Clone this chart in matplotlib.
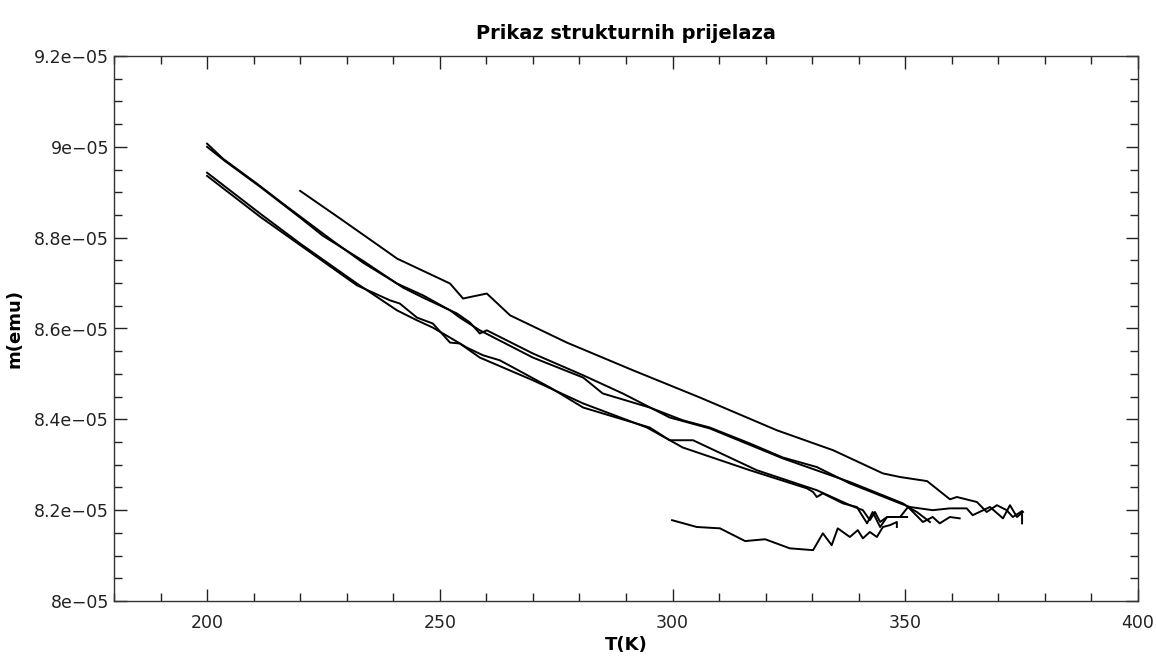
import matplotlib
matplotlib.use('Agg')
import matplotlib.pyplot as plt
from matplotlib.ticker import MultipleLocator, FuncFormatter

# mjerenja, m u jedinicama 1e-05 emu
T_c = [220.0, 228.6, 239.3, 240.8, 246.4, 252.2, 255.0, 260.1, 265.1, 277.3, 291.5, 305.9,
       322.4, 334.5, 345.2, 348.9, 354.7, 359.6, 361.1, 365.4, 367.5, 369.7, 371.8, 373.1,
       375.1, 375.1]
m_c = [8.903, 8.842, 8.765, 8.754, 8.727, 8.699, 8.666, 8.677, 8.629, 8.569, 8.508, 8.448,
       8.376, 8.332, 8.281, 8.273, 8.264, 8.224, 8.229, 8.218, 8.196, 8.211, 8.200, 8.185,
       8.198, 8.171]

T_a1 = [200.0, 203.4, 210.7, 216.3, 220.6, 227.0, 233.5, 240.8, 246.4, 252.2, 254.3, 258.6,
        270.0, 280.8, 285.0, 295.1, 302.2, 308.0, 316.6, 323.7, 331.0, 338.1, 348.9, 351.0,
        355.9, 359.6, 363.2, 364.5, 368.2, 371.0, 372.5, 374.0, 375.3]
m_a1 = [9.007, 8.974, 8.919, 8.875, 8.842, 8.793, 8.745, 8.699, 8.673, 8.640, 8.624, 8.596,
        8.536, 8.492, 8.457, 8.426, 8.398, 8.382, 8.347, 8.316, 8.295, 8.259, 8.215, 8.207,
        8.200, 8.204, 8.204, 8.189, 8.207, 8.182, 8.211, 8.185, 8.196]

T_a2 = [200.0, 203.8, 211.4, 220.0, 224.9, 233.5, 242.1, 246.4, 253.7, 256.5, 258.6, 260.1,
        270.0, 280.8, 289.3, 299.4, 308.0, 323.7, 338.1, 349.5, 350.6, 353.8, 355.9, 357.4,
        359.6, 361.7]
m_a2 = [9.000, 8.969, 8.912, 8.844, 8.804, 8.749, 8.690, 8.668, 8.633, 8.613, 8.589, 8.596,
        8.545, 8.497, 8.457, 8.404, 8.380, 8.314, 8.262, 8.215, 8.207, 8.174, 8.185, 8.171,
        8.185, 8.182]

T_b1 = [200.0, 211.4, 220.0, 232.2, 240.8, 245.1, 248.5, 252.2, 255.8, 259.3, 262.9, 273.7,
        280.8, 295.1, 299.4, 304.4, 318.1, 331.0, 338.1, 340.9, 342.4, 343.5, 344.6, 346.1,
        350.4]
m_b1 = [8.943, 8.853, 8.787, 8.699, 8.640, 8.618, 8.602, 8.580, 8.558, 8.541, 8.530, 8.470,
        8.426, 8.382, 8.354, 8.354, 8.288, 8.244, 8.211, 8.200, 8.178, 8.196, 8.174, 8.185,
        8.185]

T_b2 = [200.0, 211.4, 232.2, 239.3, 241.4, 245.1, 248.5, 252.2, 254.3, 258.6, 270.0, 280.8,
        294.5, 302.2, 316.6, 328.9, 330.2, 331.0, 332.3, 336.6, 339.6, 341.8, 343.0, 344.6,
        346.1, 348.9, 350.6, 352.5, 355.3]
m_b2 = [8.936, 8.846, 8.695, 8.662, 8.655, 8.624, 8.611, 8.569, 8.567, 8.536, 8.486, 8.435,
        8.382, 8.338, 8.288, 8.248, 8.240, 8.229, 8.237, 8.215, 8.207, 8.171, 8.196, 8.163,
        8.185, 8.185, 8.207, 8.196, 8.174]

T_d = [299.9, 305.2, 310.2, 315.6, 319.9, 325.2, 330.2, 332.3, 334.2, 335.5, 338.1, 339.8,
       340.9, 342.4, 343.9, 345.2, 346.7, 348.2, 348.2]
m_d = [8.178, 8.163, 8.160, 8.132, 8.136, 8.116, 8.112, 8.149, 8.123, 8.160, 8.141, 8.156,
       8.138, 8.152, 8.141, 8.163, 8.167, 8.174, 8.163]

serije = [(T_c, m_c), (T_a1, m_a1), (T_a2, m_a2), (T_b1, m_b1), (T_b2, m_b2), (T_d, m_d)]

fig = plt.figure(figsize=(11.56, 6.57), dpi=100)
ax1 = fig.add_axes([0.0986, 0.0852, 0.8858, 0.8296])

for T, m in serije:
    ax1.plot(T, [v * 1e-5 for v in m], color='black', linewidth=1.4)

ax1.set_xlim(180, 400)
ax1.set_ylim(8e-05, 9.2e-05)
ax1.xaxis.set_major_locator(MultipleLocator(50))
ax1.xaxis.set_minor_locator(MultipleLocator(10))
ax1.yaxis.set_major_locator(MultipleLocator(0.2e-05))
ax1.yaxis.set_minor_locator(MultipleLocator(0.05e-05))
ax1.yaxis.set_major_formatter(FuncFormatter(lambda v, p: ('%g' % v).replace('-', '\u2212')))

ax1.tick_params(which='both', direction='in', top=True, right=True, labelsize=12.5,
                colors='#222222', width=1.0)
ax1.tick_params(which='major', length=9)
ax1.tick_params(axis='x', which='major', pad=9)
ax1.tick_params(which='minor', length=6)
for s in ax1.spines.values():
    s.set_color('#333333')
    s.set_linewidth(1.0)

ax1.set_title('Prikaz strukturnih prijelaza', fontsize=14, fontweight='bold', pad=12)
ax1.set_xlabel('T(K)', fontsize=13, fontweight='bold', labelpad=3)
ax1.set_ylabel('m(emu)', fontsize=13, fontweight='bold', labelpad=8)

plt.savefig('out.png', dpi=100)
